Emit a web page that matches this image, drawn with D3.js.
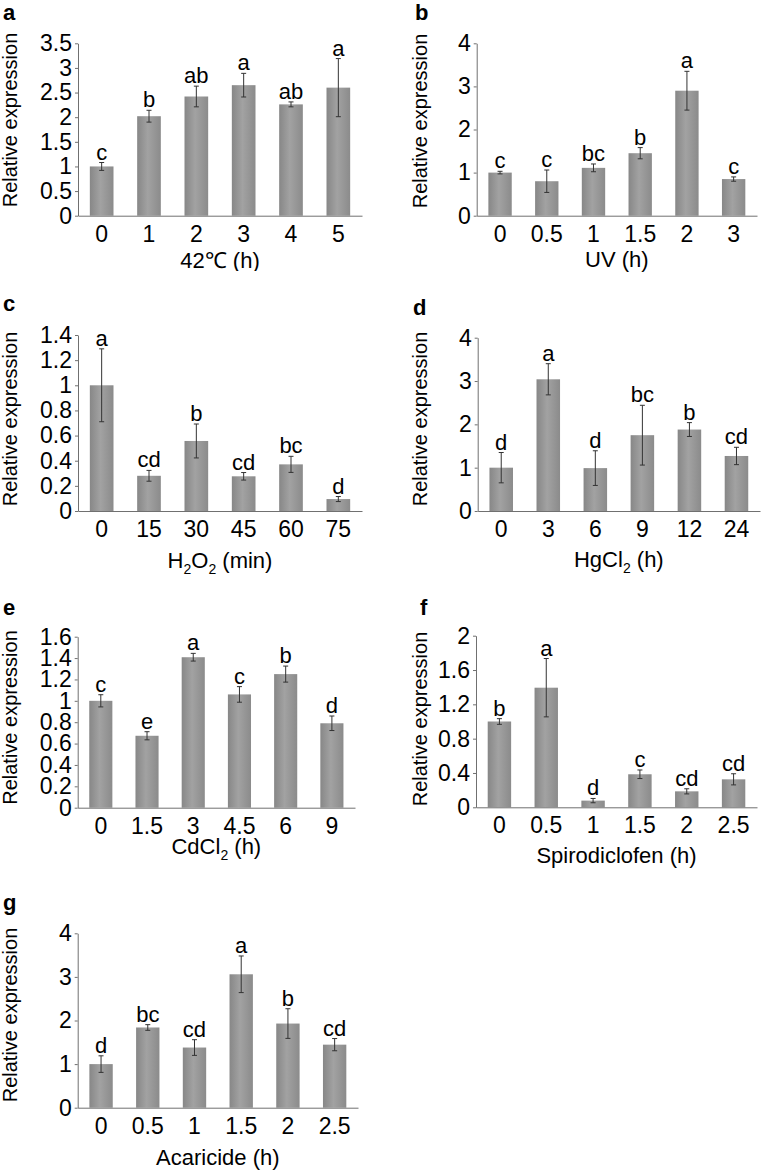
<!DOCTYPE html>
<html><head><meta charset="utf-8">
<script src="https://cdn.jsdelivr.net/npm/d3@7"></script>
<style>
body{margin:0;background:#fff}
svg{display:block}
text{font-family:"Liberation Sans",Arial,sans-serif;fill:#000}
</style>
</head><body>
<svg id="chart" width="761" height="1170"></svg>
<script>
// ---------- data ----------
const catsA = ["0","1","2","3","4","5"];
const valsA = [1.0, 2.02, 2.42, 2.65, 2.26, 2.60];
const errsA = [0.08, 0.12, 0.21, 0.24, 0.05, 0.59];
const sigA  = ["c","b","ab","a","ab","a"];
const ticksA = [0,0.5,1,1.5,2,2.5,3,3.5];

const catsB = ["0","0.5","1","1.5","2","3"];
const valsB = [1.0, 0.80, 1.11, 1.45, 2.90, 0.85];
const errsB = [0.03, 0.26, 0.09, 0.13, 0.45, 0.05];
const sigB  = ["c","c","bc","b","a","c"];
const ticksB = [0,1,2,3,4];

const catsC = ["0","15","30","45","60","75"];
const valsC = [1.0, 0.28, 0.557, 0.276, 0.371, 0.095];
const errsC = [0.29, 0.043, 0.135, 0.03, 0.064, 0.02];
const sigC  = ["a","cd","b","cd","bc","d"];
const ticksC = [0,0.2,0.4,0.6,0.8,1,1.2,1.4];

const catsD = ["0","3","6","9","12","24"];
const valsD = [1.0, 3.04, 0.99, 1.75, 1.88, 1.27];
const errsD = [0.35, 0.36, 0.40, 0.69, 0.16, 0.20];
const sigD  = ["d","a","d","bc","b","cd"];
const ticksD = [0,1,2,3,4];

const catsE = ["0","1.5","3","4.5","6","9"];
const valsE = [1.0, 0.673, 1.408, 1.06, 1.25, 0.79];
const errsE = [0.057, 0.038, 0.036, 0.073, 0.075, 0.068];
const sigE  = ["c","e","a","c","b","d"];
const ticksE = [0,0.2,0.4,0.6,0.8,1,1.2,1.4,1.6];

const catsF = ["0","0.5","1","1.5","2","2.5"];
const valsF = [1.0, 1.394, 0.078, 0.385, 0.186, 0.326];
const errsF = [0.033, 0.34, 0.025, 0.05, 0.03, 0.065];
const sigF  = ["b","a","d","c","cd","cd"];
const ticksF = [0,0.4,0.8,1.2,1.6,2];

const catsG = ["0","0.5","1","1.5","2","2.5"];
const valsG = [1.0, 1.84, 1.38, 3.06, 1.93, 1.446];
const errsG = [0.19, 0.065, 0.18, 0.42, 0.34, 0.14];
const sigG  = ["d","bc","cd","a","b","cd"];
const ticksG = [0,1,2,3,4];

const yTitle = "Relative expression";
// x titles as [text, isSubscript] segments
const xTitleA = [["42\u2103 (h)",0]];
const xTitleB = [["UV (h)",0]];
const xTitleC = [["H",0],["2",1],["O",0],["2",1],[" (min)",0]];
const xTitleD = [["HgCl",0],["2",1],[" (h)",0]];
const xTitleE = [["CdCl",0],["2",1],[" (h)",0]];
const xTitleF = [["Spirodiclofen (h)",0]];
const xTitleG = [["Acaricide (h)",0]];

// ---------- layout ----------
const panels = [
  {id:"a", cats:catsA, vals:valsA, errs:errsA, sig:sigA, ticks:ticksA, xt:xTitleA,
   lx:3, ly:20, x0:78, x1:362, yTop:43.3, y0:215.7, ylx:17, yly:120, xlDy:52, clipY:271},
  {id:"b", cats:catsB, vals:valsB, errs:errsB, sig:sigB, ticks:ticksB, xt:xTitleB,
   lx:415, ly:20, x0:476.7, x1:757, yTop:43.3, y0:215.7, ylx:426.5, yly:121, xlDy:51},
  {id:"c", cats:catsC, vals:valsC, errs:errsC, sig:sigC, ticks:ticksC, xt:xTitleC,
   lx:3, ly:311, x0:78, x1:362, yTop:335, y0:511, ylx:17, yly:419, xlDy:57},
  {id:"d", cats:catsD, vals:valsD, errs:errsD, sig:sigD, ticks:ticksD, xt:xTitleD,
   lx:413, ly:315, x0:477.7, x1:760, yTop:337.7, y0:511, ylx:426.5, yly:419, xlDy:56},
  {id:"e", cats:catsE, vals:valsE, errs:errsE, sig:sigE, ticks:ticksE, xt:xTitleE,
   lx:3, ly:615, x0:77.7, x1:355, yTop:636.7, y0:807.7, ylx:17, yly:717.5, xlDy:46},
  {id:"f", cats:catsF, vals:valsF, errs:errsF, sig:sigF, ticks:ticksF, xt:xTitleF,
   lx:420, ly:615, x0:476, x1:757, yTop:635.7, y0:807.3, ylx:427, yly:719, xlDy:56},
  {id:"g", cats:catsG, vals:valsG, errs:errsG, sig:sigG, ticks:ticksG, xt:xTitleG,
   lx:3, ly:910, x0:77.7, x1:358, yTop:933.3, y0:1107.7, ylx:17, yly:1015, xlDy:57}
];

const svg = d3.select("#chart");
const defs = svg.append("defs");
const grad = defs.append("linearGradient").attr("id","barGrad")
  .attr("x1","0").attr("x2","1").attr("y1","0").attr("y2","0");
grad.append("stop").attr("offset","0%").attr("stop-color","#878787");
grad.append("stop").attr("offset","45%").attr("stop-color","#a2a2a2");
grad.append("stop").attr("offset","100%").attr("stop-color","#8b8b8b");

const axisColor = "#707070";

panels.forEach(p => {
  const g = svg.append("g");
  const x = d3.scaleBand().domain(p.cats).range([p.x0, p.x1]).paddingInner(0.5).paddingOuter(0.25);
  const y = d3.scaleLinear().domain([0, p.ticks[p.ticks.length-1]]).range([p.y0, p.yTop]);

  // bars
  g.selectAll("rect.bar").data(p.vals).join("rect").attr("class","bar")
    .attr("x",(d,i)=>x(p.cats[i])).attr("width",x.bandwidth())
    .attr("y",d=>y(d)).attr("height",d=>y(0)-y(d))
    .attr("fill","url(#barGrad)");

  // error bars
  const eb = g.selectAll("g.err").data(p.vals).join("g").attr("class","err")
    .attr("stroke","#333").attr("stroke-width",1);
  eb.append("line")
    .attr("x1",(d,i)=>x(p.cats[i])+x.bandwidth()/2).attr("x2",(d,i)=>x(p.cats[i])+x.bandwidth()/2)
    .attr("y1",(d,i)=>y(d-p.errs[i])).attr("y2",(d,i)=>y(d+p.errs[i]));
  [1,-1].forEach(s=>{
    eb.append("line")
      .attr("x1",(d,i)=>x(p.cats[i])+x.bandwidth()/2-2.5).attr("x2",(d,i)=>x(p.cats[i])+x.bandwidth()/2+2.5)
      .attr("y1",(d,i)=>y(d+s*p.errs[i])).attr("y2",(d,i)=>y(d+s*p.errs[i]));
  });

  // significance letters
  g.selectAll("text.sig").data(p.vals).join("text").attr("class","sig")
    .attr("x",(d,i)=>x(p.cats[i])+x.bandwidth()/2)
    .attr("y",(d,i)=>y(d+p.errs[i])-3)
    .attr("text-anchor","middle").attr("font-size",22)
    .text((d,i)=>p.sig[i]);

  // y axis
  const ya = g.append("g").attr("transform",`translate(${p.x0},0)`)
    .call(d3.axisLeft(y).tickValues(p.ticks).tickSize(3).tickSizeOuter(0).tickPadding(3).tickFormat(d=>String(d)));
  ya.select(".domain").attr("stroke",axisColor);
  ya.selectAll(".tick line").attr("stroke",axisColor);
  ya.selectAll(".tick text").attr("font-size",23).attr("fill","#000")
    .attr("font-family",'"Liberation Sans",Arial,sans-serif');

  // x axis
  const xa = g.append("g").attr("transform",`translate(0,${p.y0})`)
    .call(d3.axisBottom(x).tickSize(0).tickSizeOuter(0));
  xa.select(".domain").attr("stroke",axisColor);
  xa.selectAll(".tick text").attr("font-size",23).attr("fill","#000")
    .attr("dy",null).attr("y",26)
    .attr("font-family",'"Liberation Sans",Arial,sans-serif');

  // y title
  g.append("text").attr("transform",`translate(${p.ylx},${p.yly}) rotate(-90)`)
    .attr("text-anchor","middle").attr("font-size",20).text(yTitle);

  // x title
  const xt = g.append("text").attr("x",(p.x0+p.x1)/2).attr("y",p.y0+p.xlDy)
    .attr("text-anchor","middle").attr("font-size",22);
  let sub = false;
  p.xt.forEach(([t,s])=>{
    const ts = xt.append("tspan").text(t);
    if (s && !sub){ ts.attr("font-size",14).attr("dy",6); sub=true; }
    else if (!s && sub){ ts.attr("dy",-6); sub=false; }
  });
  if (p.clipY){
    const cid = "clip_"+p.id;
    defs.append("clipPath").attr("id",cid).append("rect")
      .attr("x",0).attr("y",0).attr("width",761).attr("height",p.clipY);
    xt.attr("clip-path",`url(#${cid})`);
  }

  // panel letter
  svg.append("text").attr("x",p.lx).attr("y",p.ly)
    .attr("font-size",22).attr("font-weight","bold").text(p.id);
});
</script>
</body></html>
